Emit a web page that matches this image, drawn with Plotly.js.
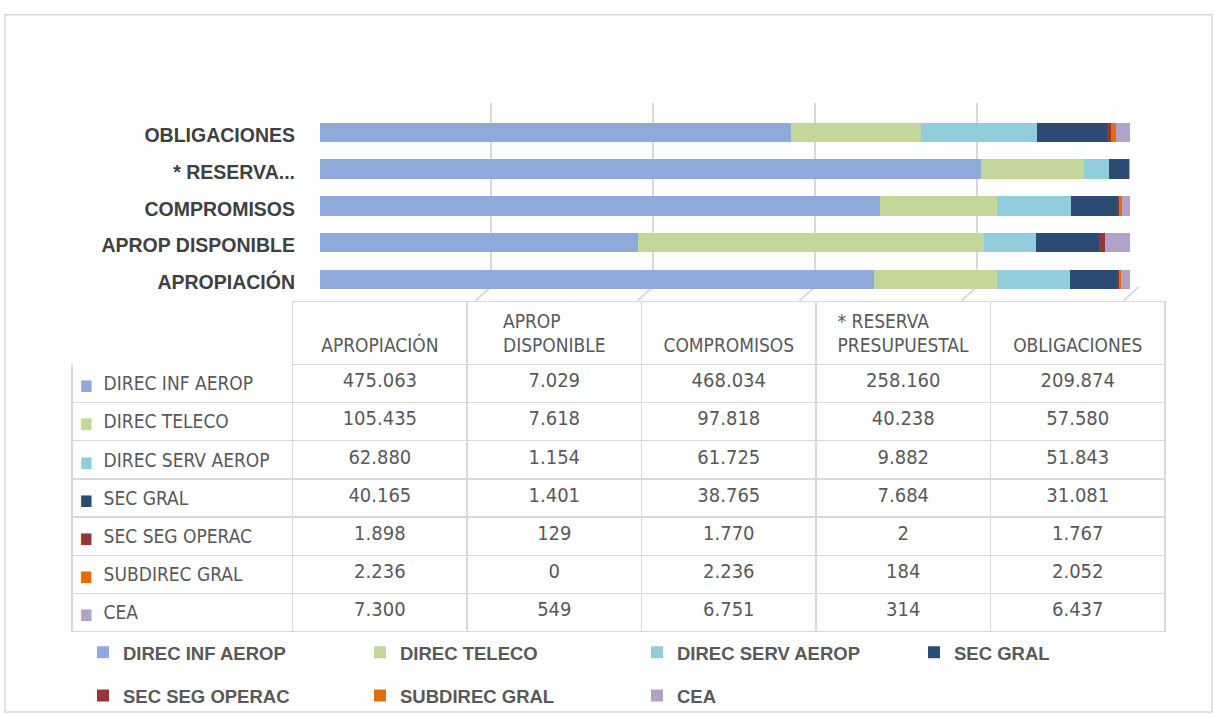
<!DOCTYPE html>
<html><head><meta charset="utf-8">
<script src="https://cdn.plot.ly/plotly-3.0.1.min.js"></script>
<style>html,body{margin:0;padding:0;background:#fff;} #chart{width:1214px;height:715px;}</style>
</head><body><div id="chart"></div>
<script>
// ---- data ----
const categories = ['APROPIACIÓN', 'APROP DISPONIBLE', 'COMPROMISOS', '* RESERVA PRESUPUESTAL', 'OBLIGACIONES'];
const axisLabels = ['APROPIACIÓN', 'APROP DISPONIBLE', 'COMPROMISOS', '* RESERVA...', 'OBLIGACIONES'];
const headerLabels = ['APROPIACIÓN', 'APROP<br>DISPONIBLE', 'COMPROMISOS', '* RESERVA<br>PRESUPUESTAL', 'OBLIGACIONES'];
const seriesNames = ['DIREC INF AEROP', 'DIREC TELECO', 'DIREC SERV AEROP', 'SEC GRAL', 'SEC SEG OPERAC', 'SUBDIREC GRAL', 'CEA'];
const seriesColors = ['#8eaadb', '#c4d79b', '#92cddc', '#2b4b74', '#963634', '#e46c0a', '#b3a2c7'];
const direcInfAerop  = [475063, 7029, 468034, 258160, 209874];
const direcTeleco    = [105435, 7618, 97818, 40238, 57580];
const direcServAerop = [62880, 1154, 61725, 9882, 51843];
const secGral        = [40165, 1401, 38765, 7684, 31081];
const secSegOperac   = [1898, 129, 1770, 2, 1767];
const subdirecGral   = [2236, 0, 2236, 184, 2052];
const cea            = [7300, 549, 6751, 314, 6437];
const seriesValues = [direcInfAerop, direcTeleco, direcServAerop, secGral, secSegOperac, subdirecGral, cea];

// ---- helpers ----
const W = 1214, H = 715;
const px = x => x / W;
const py = y => 1 - y / H;
const fmt = v => String(v).replace(/\B(?=(\d{3})+(?!\d))/g, '.');
const NB = '\u00a0';
const FONT = 'Liberation Sans, Arial, sans-serif';
const TFONT = 'DejaVu Sans Condensed, Liberation Sans, sans-serif';
const GRID = '#d9d9d9';
const GRID_STEP = 20;

// empty trace so that the back-wall grid subplot exists
const traces = [{ type: 'scatter', x: [], y: [], xaxis: 'x', yaxis: 'y', showlegend: false, hoverinfo: 'skip' }];

seriesNames.forEach((n, i) => traces.push({
  type: 'bar', orientation: 'h', name: n,
  y: categories, x: seriesValues[i],
  xaxis: 'x2', yaxis: 'y2',
  marker: { color: seriesColors[i], line: { width: 0 } },
  legend: i < 4 ? 'legend' : 'legend2',
  hoverinfo: 'skip'
}));

const firstCol = seriesNames.map((n, i) =>
  `<span style="color:${seriesColors[i]};font-size:15px">■</span>${NB}${NB}${n.split(' ').join(NB)}<br>`);
// single-line headers are pushed to the second line so they sit mid-cell
const headerCells = [''].concat(headerLabels.map(h => h.indexOf('<br>') >= 0 ? h : NB + '<br>' + h));
const dataCols = categories.map((c, j) => seriesValues.map(s => fmt(s[j])));

traces.push({
  type: 'table',
  domain: { x: [px(72), px(1165)], y: [py(640), py(305)] },
  columnwidth: [220, 174, 174, 174, 174, 174],
  header: {
    values: headerCells,
    align: 'center', height: 58,
    fill: { color: 'white' },
    line: { color: ['white', GRID, GRID, GRID, GRID, GRID], width: 1.5 },
    font: { family: TFONT, size: 19, color: '#595959' }
  },
  cells: {
    values: [firstCol].concat(dataCols),
    align: ['left', 'center', 'center', 'center', 'center', 'center'],
    height: 38.2,
    fill: { color: 'white' },
    line: { color: GRID, width: 1.5 },
    font: { family: TFONT, size: [19, 20, 20, 20, 20, 20], color: '#595959' }
  }
});

const legendBase = {
  orientation: 'h', xanchor: 'left', yanchor: 'top',
  entrywidth: 232, entrywidthmode: 'pixels', itemwidth: 30,
  traceorder: 'normal', bgcolor: 'rgba(0,0,0,0)',
  font: { family: FONT, size: 18.5, color: '#595959', weight: 'bold' }
};

// slanted floor ticks at the foot of each back-wall gridline
const floorTicks = [];
for (let v = 0; v <= 100; v += GRID_STEP) {
  floorTicks.push({
    type: 'line', xref: 'x', yref: 'paper',
    x0: v, y0: py(290), x1: v - 1.9, y1: py(304),
    line: { color: GRID, width: 2 }, layer: 'below'
  });
}

const layout = {
  width: W, height: H,
  margin: { l: 0, r: 0, t: 0, b: 0 },
  paper_bgcolor: 'white', plot_bgcolor: 'rgba(0,0,0,0)',
  barmode: 'stack', barnorm: 'percent', bargap: 0.47,
  showlegend: true,
  legend: Object.assign({}, legendBase, { x: px(83), y: py(641) }),
  legend2: Object.assign({}, legendBase, { x: px(83), y: py(685) }),
  // back wall grid (offset for depth)
  xaxis: {
    anchor: 'y', domain: [px(329), px(1139)], range: [0, 100],
    tick0: 0, dtick: GRID_STEP, showgrid: true, gridcolor: GRID, gridwidth: 2,
    showticklabels: false, zeroline: false, showline: false, ticks: '', fixedrange: true
  },
  yaxis: {
    anchor: 'x', domain: [py(290), py(104)], range: [0, 1],
    showgrid: false, showticklabels: false, zeroline: false, showline: false, ticks: '', fixedrange: true
  },
  // bars
  xaxis2: {
    anchor: 'y2', domain: [px(320), px(1130)], range: [0, 100],
    showgrid: false, showticklabels: false, zeroline: false, showline: false, ticks: '', fixedrange: true
  },
  yaxis2: {
    anchor: 'x2', domain: [py(303), py(104)], type: 'category',
    categoryorder: 'array', categoryarray: categories,
    tickvals: categories, ticktext: axisLabels,
    range: [-0.55, 4.8],
    ticklabelstandoff: 24, ticklabelshift: 3,
    tickfont: { family: FONT, size: 19.5, color: '#404040', weight: 'bold' },
    showgrid: false, zeroline: false, showline: false, ticks: '', fixedrange: true
  },
  shapes: floorTicks.concat([{
    type: 'rect', xref: 'paper', yref: 'paper',
    x0: px(5), x1: px(1212), y0: py(720), y1: py(15),
    line: { color: GRID, width: 1.5 }, fillcolor: 'rgba(0,0,0,0)', layer: 'below'
  }])
};

Plotly.newPlot('chart', traces, layout, { displayModeBar: false, staticPlot: true });
</script>
</body></html>
